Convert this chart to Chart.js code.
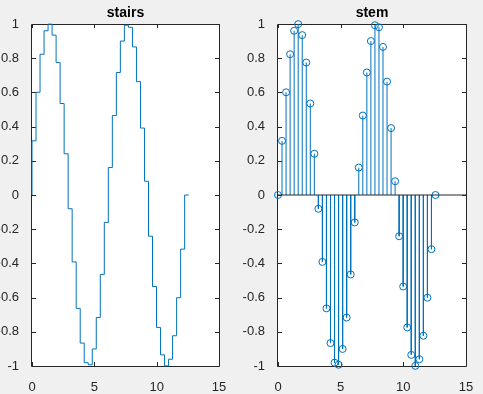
<!DOCTYPE html>
<html>
<head>
<meta charset="utf-8">
<script src="https://cdn.jsdelivr.net/npm/chart.js@4/dist/chart.umd.min.js"></script>
<style>
  html, body { margin: 0; padding: 0; background: #f0f0f0; }
  #wrap { position: relative; width: 483px; height: 394px; }
  .box { position: absolute; top: 0; height: 394px; }
</style>
</head>
<body>
<div id="wrap">
  <div class="box" style="left:0;width:241px"><canvas id="stairs-chart"></canvas></div>
  <div class="box" style="left:241px;width:242px"><canvas id="stem-chart"></canvas></div>
</div>
<script>
// sample positions and values
const xValues = [0, 0.3222, 0.6444, 0.9666, 1.2889, 1.6111, 1.9333, 2.2555, 2.5777, 2.8999,
  3.2222, 3.5444, 3.8666, 4.1888, 4.5110, 4.8332, 5.1554, 5.4777, 5.7999, 6.1221,
  6.4443, 6.7665, 7.0887, 7.4110, 7.7332, 8.0554, 8.3776, 8.6998, 9.0220, 9.3442,
  9.6665, 9.9887, 10.3109, 10.6331, 10.9553, 11.2775, 11.5997, 11.9220, 12.2442, 12.5664];
const yValues = [0, 0.3167, 0.6006, 0.8230, 0.9604, 0.9992, 0.9350, 0.7745, 0.5350, 0.2411,
  -0.0805, -0.3914, -0.6631, -0.8660, -0.9807, -0.9927, -0.9003, -0.7165, -0.4647, -0.1604,
  0.1604, 0.4647, 0.7165, 0.9003, 0.9927, 0.9807, 0.8660, 0.6631, 0.3914, 0.0805,
  -0.2411, -0.5350, -0.7745, -0.9350, -0.9992, -0.9604, -0.8230, -0.6006, -0.3167, 0];
const xTicks = [0, 5, 10, 15];
const yTicks = [-1, -0.8, -0.6, -0.4, -0.2, 0, 0.2, 0.4, 0.6, 0.8, 1];
const titles = ['stairs', 'stem'];

const lineColor = '#0072BD';
const axisColor = '#262626';
const fontFamily = "'Liberation Sans', Arial, sans-serif";

const points = xValues.map((x, i) => ({ x: x, y: yValues[i] }));

// stems: (x,0) -> (x,y), then a gap
const stemPoints = [];
points.forEach(p => {
    stemPoints.push({ x: p.x, y: 0 });
    stemPoints.push({ x: p.x, y: p.y });
    stemPoints.push({ x: p.x, y: null });
});

// white plot area, box and inward ticks on all four sides, title
const axesBox = {
    id: 'axesBox',
    beforeDraw(chart) {
        const a = chart.chartArea;
        const ctx = chart.ctx;
        ctx.save();
        ctx.fillStyle = '#ffffff';
        ctx.fillRect(a.left, a.top, a.right - a.left, a.bottom - a.top);
        ctx.restore();
    },
    beforeDatasetsDraw(chart) {
        const a = chart.chartArea;
        const ctx = chart.ctx;
        const xs = chart.scales.x;
        const ys = chart.scales.y;
        const len = 4;
        ctx.save();
        ctx.strokeStyle = axisColor;
        ctx.lineWidth = 1;
        ctx.beginPath();
        ctx.rect(Math.round(a.left) - 0.5, Math.round(a.top) + 0.5,
            Math.round(a.right - a.left) + 1, Math.round(a.bottom - a.top));
        xTicks.forEach(v => {
            const px = Math.round(xs.getPixelForValue(v)) + 0.5;
            ctx.moveTo(px, a.bottom); ctx.lineTo(px, a.bottom - len);
            ctx.moveTo(px, a.top); ctx.lineTo(px, a.top + len);
        });
        yTicks.forEach(v => {
            const py = Math.round(ys.getPixelForValue(v)) + 0.5;
            ctx.moveTo(a.left, py); ctx.lineTo(a.left + len, py);
            ctx.moveTo(a.right, py); ctx.lineTo(a.right - len, py);
        });
        ctx.stroke();
        ctx.fillStyle = '#000000';
        ctx.font = 'bold 14px ' + fontFamily;
        ctx.textAlign = 'center';
        ctx.textBaseline = 'alphabetic';
        ctx.fillText(chart.options.plugins.axesBox.text, (a.left + a.right) / 2, 17);
        ctx.restore();
    }
};

function makeOptions(title, leftWidth, rightPad) {
    return {
        responsive: true,
        maintainAspectRatio: false,
        animation: false,
        layout: { padding: { top: 24, right: rightPad, left: 0, bottom: 0 } },
        plugins: {
            legend: { display: false },
            tooltip: { enabled: false },
            axesBox: { text: title }
        },
        scales: {
            x: {
                type: 'linear',
                min: 0,
                max: 15,
                grid: { display: false },
                border: { display: false },
                afterBuildTicks: s => { s.ticks = xTicks.map(v => ({ value: v })); },
                afterFit: s => { s.height = 28; },
                ticks: { color: axisColor, padding: 6, font: { family: fontFamily, size: 13 } }
            },
            y: {
                min: -1,
                max: 1,
                grid: { display: false },
                border: { display: false },
                afterBuildTicks: s => { s.ticks = yTicks.map(v => ({ value: v })); },
                afterFit: s => { s.width = leftWidth; },
                ticks: {
                    color: axisColor,
                    padding: 5,
                    font: { family: fontFamily, size: 13 },
                    callback: v => String(Math.round(v * 10) / 10)
                }
            }
        }
    };
}

new Chart(document.getElementById('stairs-chart'), {
    type: 'line',
    data: {
        datasets: [{
            data: points,
            stepped: 'after',
            borderColor: lineColor,
            borderWidth: 1,
            pointRadius: 0,
            fill: false,
            clip: 4
        }]
    },
    options: makeOptions(titles[0], 32, 22),
    plugins: [axesBox]
});

new Chart(document.getElementById('stem-chart'), {
    type: 'line',
    data: {
        datasets: [{
            data: [{ x: 0, y: 0 }, { x: 15, y: 0 }],
            borderColor: axisColor,
            borderWidth: 1,
            pointRadius: 0,
            fill: false
        }, {
            data: stemPoints,
            borderColor: lineColor,
            borderWidth: 1,
            pointRadius: 0,
            spanGaps: false,
            fill: false,
            clip: 4
        }, {
            data: points,
            showLine: false,
            borderColor: lineColor,
            backgroundColor: 'rgba(0,0,0,0)',
            borderWidth: 1,
            pointRadius: 3.5,
            pointStyle: 'circle',
            clip: false
        }]
    },
    options: makeOptions(titles[1], 37, 17),
    plugins: [axesBox]
});
</script>
</body>
</html>
